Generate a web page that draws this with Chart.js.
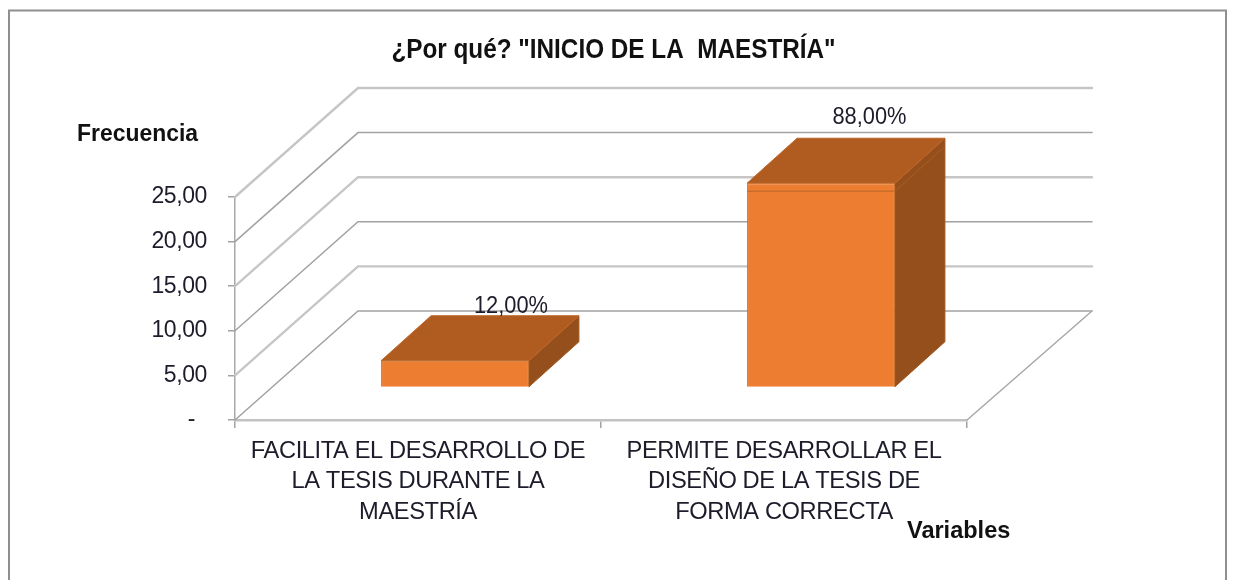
<!DOCTYPE html>
<html><head><meta charset="utf-8">
<style>html,body{margin:0;padding:0;background:#fff}canvas{display:block;filter:blur(0.45px)}</style>
<script src="https://cdn.jsdelivr.net/npm/chart.js@4"></script>
</head><body>
<canvas id="c" width="1234" height="580"></canvas>
<script>
const categories = [
  ["FACILITA EL DESARROLLO DE", "LA TESIS DURANTE LA", "MAESTRÍA"],
  ["PERMITE DESARROLLAR EL", "DISEÑO DE LA TESIS DE", "FORMA CORRECTA"]
];
const frecuencia = [3, 22.9];
const porcentajes = ["12,00%", "88,00%"];
const foldValues = [null, 22];
const yTicks = [0, 5, 10, 15, 20, 25];
const titleText = '¿Por qué? "INICIO DE LA  MAESTRÍA"';
const yTitle = "Frecuencia";
const xTitle = "Variables";

const FONT = '"Liberation Sans",Arial,sans-serif';
const DEPTH = {x: 123, y: 109};          // wall depth
const BACK_EXTRA = 2;                    // back wall runs slightly further right
const BAR_SHIFT = {x: 37, y: 32.5};      // bars stand in the middle of the floor
const BAR_DEPTH = {x: 50, y: 45};
const LABEL_NUDGE = [{x: 6, y: -3}, {x: -1.5, y: -14}];

function line(ctx, pts, color, w) {
  ctx.beginPath();
  pts.forEach((p, i) => i ? ctx.lineTo(p[0], p[1]) : ctx.moveTo(p[0], p[1]));
  ctx.strokeStyle = color; ctx.lineWidth = w; ctx.stroke();
}
function poly(ctx, pts, fill, stroke) {
  ctx.beginPath();
  pts.forEach((p, i) => i ? ctx.lineTo(p[0], p[1]) : ctx.moveTo(p[0], p[1]));
  ctx.closePath(); ctx.fillStyle = fill; ctx.fill();
  ctx.strokeStyle = stroke; ctx.lineWidth = 1; ctx.stroke();
}
// Draws text squeezed horizontally: the reference uses a narrow face.
function narrowText(ctx, text, x, y, sx, align) {
  ctx.save();
  ctx.translate(x, y);
  ctx.scale(sx, 1);
  ctx.textAlign = align;
  ctx.fillText(text, 0, 0);
  ctx.restore();
}

const scene3d = {
  id: 'scene3d',
  beforeDraw(chart) {
    // native tick labels are tightened to approach the narrow face
    chart.ctx.letterSpacing = '-0.4px';
  },
  beforeDatasetsDraw(chart) {
    const {ctx, scales: {x, y}, chartArea: a} = chart;
    ctx.save();
    ctx.lineCap = 'round';
    line(ctx, [[9, 580], [9, 10.5], [1226, 10.5], [1226, 580]], '#8f8f8f', 2);
    yTicks.forEach((v, i) => {
      const py = y.getPixelForValue(v);
      const thick = i % 2 === 1;
      const col = thick ? '#c6c6c6' : '#a2a2a2';
      const w = thick ? 2.4 : 1.5;
      line(ctx, [[a.left, py], [a.left + DEPTH.x, py - DEPTH.y],
                 [a.right + DEPTH.x + BACK_EXTRA, py - DEPTH.y]], col, w);
    });
    const p0 = y.getPixelForValue(0);
    line(ctx, [[a.right, p0], [a.right + DEPTH.x + BACK_EXTRA, p0 - DEPTH.y]], '#a8a8a8', 1.5);
    ctx.restore();
    ctx.save();
    ctx.translate(BAR_SHIFT.x, -BAR_SHIFT.y);
    const meta = chart.getDatasetMeta(0);
    meta.data.forEach((bar) => {
      const l = bar.x - bar.width / 2, r = bar.x + bar.width / 2, t = bar.y, b = bar.base;
      const dx = BAR_DEPTH.x, dy = BAR_DEPTH.y;
      poly(ctx, [[r, t], [r + dx, t - dy], [r + dx, b - dy], [r, b]], '#954F1C', '#A3591F');
      poly(ctx, [[l, t], [l + dx, t - dy], [r + dx, t - dy], [r, t]], '#B05C20', '#BD6526');
    });
    ctx.restore();
  },
  beforeDatasetDraw(chart) {
    chart.ctx.save();
    chart.ctx.translate(BAR_SHIFT.x, -BAR_SHIFT.y);
  },
  afterDatasetDraw(chart) {
    const {ctx, scales: {y}} = chart;
    const meta = chart.getDatasetMeta(0);
    meta.data.forEach((bar, i) => {
      if (foldValues[i] == null) return;
      const py = y.getPixelForValue(foldValues[i]);
      const l = bar.x - bar.width / 2, r = bar.x + bar.width / 2;
      line(ctx, [[l, py], [r, py]], '#C96F2B', 1.5);
      line(ctx, [[r, py], [r + BAR_DEPTH.x, py - BAR_DEPTH.y]], '#A3571F', 1.5);
    });
    ctx.restore();
  },
  afterDraw(chart) {
    const {ctx} = chart;
    const meta = chart.getDatasetMeta(0);
    ctx.save();
    ctx.letterSpacing = '0px';
    ctx.fillStyle = '#1c1c2a';
    ctx.textBaseline = 'alphabetic';
    ctx.font = '24px ' + FONT;
    meta.data.forEach((bar, i) => {
      narrowText(ctx, porcentajes[i],
        bar.x + BAR_SHIFT.x + BAR_DEPTH.x + LABEL_NUDGE[i].x,
        bar.y - BAR_SHIFT.y - BAR_DEPTH.y + LABEL_NUDGE[i].y, 0.91, 'center');
    });
    ctx.fillStyle = '#111';
    ctx.font = 'bold 27px ' + FONT;
    narrowText(ctx, titleText, 613.5, 58, 0.9, 'center');
    ctx.font = 'bold 24px ' + FONT;
    narrowText(ctx, yTitle, 77, 141, 0.955, 'left');
    narrowText(ctx, xTitle, 907, 538, 0.98, 'left');
    ctx.restore();
  }
};

new Chart(document.getElementById('c'), {
  type: 'bar',
  data: {
    labels: categories,
    datasets: [{
      label: 'Frecuencia',
      data: frecuencia,
      backgroundColor: '#ED7D31',
      borderColor: '#C96F2B',
      borderWidth: 1,
      barPercentage: 0.404,
      categoryPercentage: 1,
      clip: false
    }]
  },
  plugins: [scene3d],
  options: {
    responsive: false,
    animation: false,
    layout: {padding: {left: 125, right: 267, top: 197, bottom: 60}},
    plugins: {legend: {display: false}, title: {display: false}, tooltip: {enabled: false}},
    scales: {
      x: {
        afterFit(s) { s.height = 100; },
        grid: {drawOnChartArea: false, drawTicks: true, tickLength: 8, color: '#a2a2a2', lineWidth: 1.5},
        border: {display: true, color: '#c2c2c2', width: 2.5},
        ticks: {
          color: '#1c1c2a', maxRotation: 0, minRotation: 0, autoSkip: false, padding: 8,
          font: {family: FONT, size: 23.7, lineHeight: 1.285}
        }
      },
      y: {
        min: 0, max: 25,
        afterFit(s) { s.width = 110; },
        afterBuildTicks(s) { s.ticks = yTicks.map(v => ({value: v})); },
        grid: {drawOnChartArea: false, drawTicks: true, tickLength: 7, color: '#a2a2a2', lineWidth: 1.5},
        border: {display: true, color: '#a8a8a8', width: 1.5},
        ticks: {
          color: '#1c1c2a', padding: 21,
          font: {family: FONT, size: 23},
          callback(v) { return v === 0 ? '-\u00a0\u00a0' : v.toFixed(2).replace('.', ','); }
        }
      }
    }
  }
});
</script>
</body></html>
